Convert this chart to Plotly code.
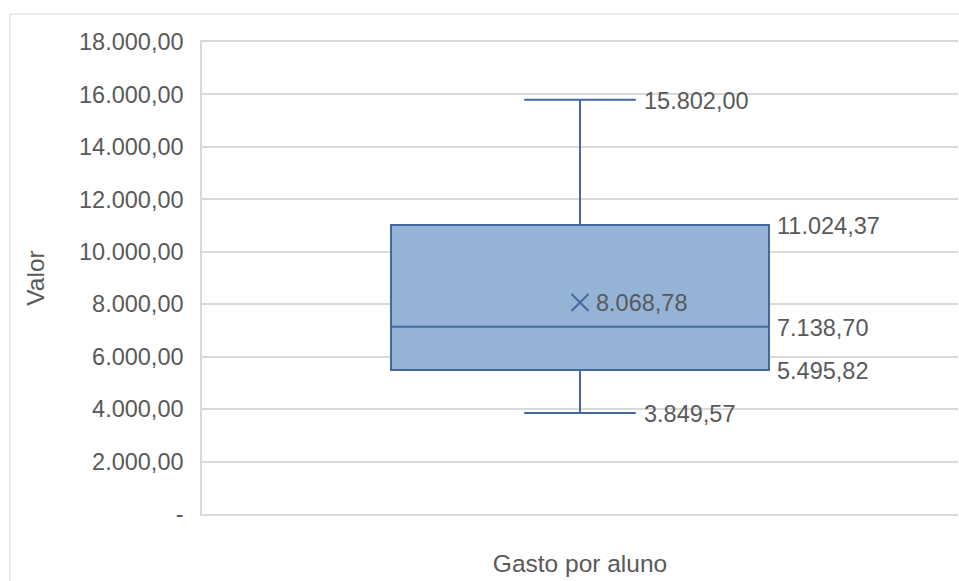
import plotly.graph_objects as go

category = "Gasto por aluno"
stat_min = 3849.57
stat_q1 = 5495.82
stat_median = 7138.70
stat_q3 = 11024.37
stat_max = 15802.00
stat_mean = 8068.78

tick_vals = [0, 2000, 4000, 6000, 8000, 10000, 12000, 14000, 16000, 18000]
tick_text = ["-", "2.000,00", "4.000,00", "6.000,00", "8.000,00", "10.000,00",
             "12.000,00", "14.000,00", "16.000,00", "18.000,00"]


def br(v):
    s = f"{v:,.2f}"
    return s.replace(",", "X").replace(".", ",").replace("X", ".")


FONT = "Liberation Sans, Arial, sans-serif"
TXT = "#595959"
FILL = "#95B3D7"
LINE = "#44699E"
GRID = "#d9d9d9"
FS = 23.5
FT = 24.5

box_w = 1.0
whisk = 0.295

fig = go.Figure()
fig.add_trace(go.Box(
    x=[0], q1=[stat_q1], median=[stat_median], q3=[stat_q3],
    lowerfence=[stat_min], upperfence=[stat_max],
    width=box_w, whiskerwidth=whisk,
    fillcolor=FILL, line=dict(color=LINE, width=2),
    boxpoints=False, showlegend=False, hoverinfo="skip",
))
fig.add_trace(go.Scatter(
    x=[0], y=[stat_mean], mode="markers",
    marker=dict(symbol="x-thin", size=17, line=dict(color=LINE, width=2)),
    showlegend=False, hoverinfo="skip",
))

ann = []
half_box = box_w / 2
half_cap = box_w * whisk / 2
for xv, yv, dx in [
    (half_cap, stat_max, 6),
    (half_box, stat_q3, 6),
    (half_box, stat_median, 6),
    (half_box, stat_q1, 6),
    (half_cap, stat_min, 6),
    (0, stat_mean, 14),
]:
    ann.append(dict(x=xv, y=yv, xref="x", yref="y", text=br(yv), showarrow=False,
                    xanchor="left", yanchor="middle", xshift=dx, yshift=-1,
                    font=dict(family=FONT, size=FS, color=TXT)))

fig.update_layout(
    width=959, height=581,
    margin=dict(l=202, r=1, t=42, b=67),
    paper_bgcolor="white", plot_bgcolor="white",
    font=dict(family=FONT, size=FS, color=TXT),
    annotations=ann,
    shapes=[dict(type="rect", xref="paper", yref="paper",
                 x0=(10 - 202) / 756, x1=1.2, y0=-0.3, y1=1 + (42 - 14) / 472,
                 line=dict(color=GRID, width=1), layer="below")],
    xaxis=dict(range=[-1, 1], showticklabels=False, showgrid=False, zeroline=False,
               showline=True, linecolor=GRID, linewidth=1.5, mirror=True,
               title=dict(text=category, standoff=40,
                          font=dict(family=FONT, size=FT, color=TXT))),
    yaxis=dict(range=[0, 18000], tickvals=tick_vals, ticktext=tick_text,
               showgrid=True, gridcolor=GRID, gridwidth=1.5, zeroline=False,
               showline=True, linecolor=GRID, linewidth=1.5,
               ticks="", ticklabelstandoff=12,
               tickfont=dict(family=FONT, size=FS, color=TXT),
               title=dict(text="Valor", standoff=27,
                          font=dict(family=FONT, size=FT, color=TXT))),
)

fig.write_html("out.html")
